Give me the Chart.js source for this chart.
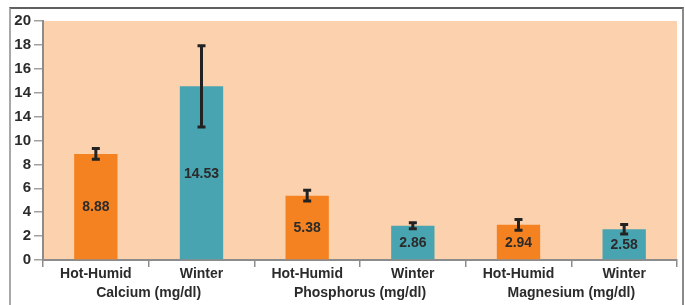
<!DOCTYPE html>
<html>
<head>
<meta charset="utf-8">
<script src="https://cdn.jsdelivr.net/npm/chart.js@4"></script>
<style>
  html, body { margin: 0; padding: 0; background: #fff; overflow: hidden; }
  #wrap { position: relative; width: 685px; height: 305px; }
  #frame { position: absolute; left: 9px; top: 7px; width: 675px; height: 400px; box-sizing: border-box;
           border-left: 2px solid #a8a8a8; border-right: 2px solid #8a8a8a; border-top: 2px solid #606060; }
  canvas { position: absolute; left: 0; top: 0; }
</style>
</head>
<body>
<div id="wrap">
  <div id="frame"></div>
  <canvas id="mineralChart" width="685" height="305"></canvas>
</div>
<script>
const seasons = ['Hot-Humid', 'Winter', 'Hot-Humid', 'Winter', 'Hot-Humid', 'Winter'];
const minerals = ['Calcium (mg/dl)', 'Phosphorus (mg/dl)', 'Magnesium (mg/dl)'];
const means = [8.88, 14.53, 5.38, 2.86, 2.94, 2.58];
const errors = [0.45, 3.4, 0.45, 0.25, 0.45, 0.4];
const yTickLabels = ['0', '2', '4', '6', '8', '10', '14', '14', '16', '18', '20'];
const barColors = ['#f58220', '#48a4b0', '#f58220', '#48a4b0', '#f58220', '#48a4b0'];

const textColor = '#2b2b2b';
const axisGray = '#8c8c8c';
const fontFamily = '"Liberation Sans", Arial, sans-serif';

// peach plot background
const plotBackground = {
    id: 'plotBackground',
    beforeDraw(chart) {
        const { ctx, chartArea: a } = chart;
        ctx.save();
        ctx.fillStyle = '#fcd1ad';
        ctx.fillRect(a.left, a.top, a.right - a.left, a.bottom - a.top);
        ctx.restore();
    }
};

// error bars and value labels
const errorBars = {
    id: 'errorBars',
    afterDatasetsDraw(chart) {
        const { ctx } = chart;
        const y = chart.scales.y;
        const meta = chart.getDatasetMeta(0);
        ctx.save();
        meta.data.forEach((bar, i) => {
            const x = bar.x;
            // value label
            ctx.fillStyle = textColor;
            ctx.font = 'bold 14px ' + fontFamily;
            ctx.textAlign = 'center';
            ctx.textBaseline = 'middle';
            ctx.fillText(means[i].toFixed(2), x, (bar.y + bar.base) / 2 + 1);
            // error bar
            const top = y.getPixelForValue(means[i] + errors[i]);
            const bot = y.getPixelForValue(means[i] - errors[i]);
            ctx.strokeStyle = '#222';
            ctx.lineWidth = 3;
            ctx.beginPath();
            ctx.moveTo(x, top);
            ctx.lineTo(x, bot);
            ctx.moveTo(x - 4, top);
            ctx.lineTo(x + 4, top);
            ctx.moveTo(x - 4, bot);
            ctx.lineTo(x + 4, bot);
            ctx.stroke();
        });
        ctx.restore();
    }
};

const ctx = document.getElementById('mineralChart').getContext('2d');
const mineralChart = new Chart(ctx, {
    type: 'bar',
    data: {
        labels: seasons,
        datasets: [{
            data: means,
            backgroundColor: barColors,
            barPercentage: 0.41,
            categoryPercentage: 1
        }]
    },
    options: {
        responsive: false,
        animation: false,
        layout: { padding: { left: 0, right: 8, top: 21, bottom: 0 } },
        plugins: {
            legend: { display: false },
            tooltip: { enabled: false }
        },
        scales: {
            x: {
                offset: true,
                grid: {
                    offset: true,
                    drawOnChartArea: false,
                    color: axisGray,
                    lineWidth: 1.5,
                    tickLength: 7
                },
                border: { color: axisGray, width: 2 },
                ticks: {
                    color: textColor,
                    padding: -1,
                    font: { family: fontFamily, size: 14, weight: 'bold' }
                },
                afterFit(scale) { scale.height = 25; }
            },
            x2: {
                type: 'category',
                position: 'bottom',
                labels: minerals,
                offset: true,
                grid: { display: false, drawTicks: false },
                border: { display: false },
                ticks: {
                    color: textColor,
                    padding: 0,
                    font: { family: fontFamily, size: 14, weight: 'bold' }
                },
                afterFit(scale) { scale.height = 20; }
            },
            y: {
                min: 0,
                max: 20,
                ticks: {
                    stepSize: 2,
                    color: textColor,
                    padding: 3,
                    font: { family: fontFamily, size: 15, weight: 'bold' },
                    callback: (v, i) => yTickLabels[i]
                },
                grid: {
                    drawOnChartArea: false,
                    color: '#a0a0a0',
                    lineWidth: 1.5,
                    tickLength: 9
                },
                border: { color: axisGray, width: 2 },
                afterFit(scale) { scale.width = 43; }
            }
        }
    },
    plugins: [plotBackground, errorBars]
});
</script>
</body>
</html>
